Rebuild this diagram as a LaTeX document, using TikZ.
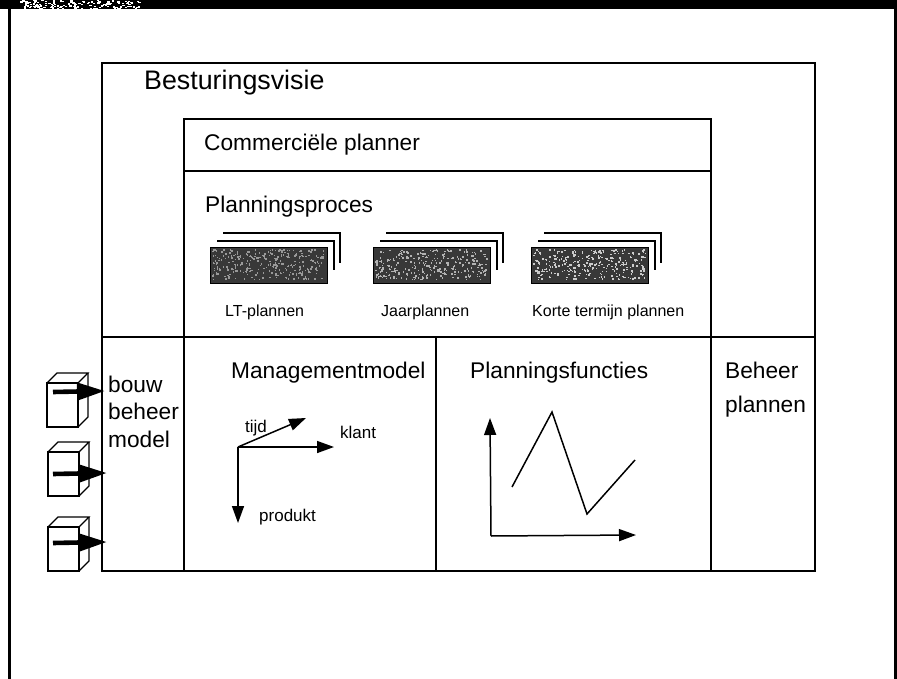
\documentclass[tikz,border=0pt]{standalone}
\usepackage{fontspec}
\setmainfont{Liberation Sans}
\usetikzlibrary{arrows.meta}
\newcommand{\fsz}[1]{\fontsize{#1}{#1}\selectfont}
\tikzset{
  x=1pt,y=-1pt,
  ln/.style={draw=black,line width=1.1pt},
  big/.style={anchor=base west,inner sep=0pt,font=\fsz{26.8}},
  mid/.style={anchor=base west,inner sep=0pt,font=\fsz{22.7}},
  sml/.style={anchor=base west,inner sep=0pt,font=\fsz{16}},
  axl/.style={anchor=base west,inner sep=0pt,font=\fsz{17}},
  plan/.style={draw=black,line width=1.4pt,fill=black!78,minimum width=117pt,minimum height=36pt,inner sep=0pt},
  thick arrow/.style={line width=4.6pt,-{Triangle[length=28pt,width=17pt]}},
  axis/.style={line width=1.5pt,-{Triangle[length=17pt,width=12pt]}},
}
\newcommand{\speck}[6]{% x y w h seed colour
  \pgfmathsetseed{#5}
  \foreach \i in {1,...,300}{
    \pgfmathsetmacro{\xa}{#1+rnd*(#3-2)}
    \pgfmathsetmacro{\ya}{#2+rnd*(#4-2)}
    \fill[#6] (\xa,\ya) rectangle ++(1.5,1.5);
  }}
\newcommand{\planstack}[4]{% name, left x, seed, speck colour
  \draw[line width=1.4pt] (#2+7,241) -- (#2+124,241) -- (#2+124,270);
  \draw[line width=1.4pt] (#2+13,233) -- (#2+130,233) -- (#2+130,263);
  \node[plan,anchor=north west] (#1) at (#2,247) {};
  \speck{#2+2}{249}{114}{32}{#3}{#4}
}
\newcommand{\crate}[3]{% name, x, y top-of-front
  \coordinate (#1) at (#2,#3);
  \draw[line width=1.2pt,fill=white] (#2,#3) rectangle ++(31,44);
  \draw[line width=1.2pt] (#2,#3) -- ++(10,-10) -- ++(31,0) -- ++(-10,10);
  \draw[line width=1.2pt] (#2+41,#3-10) -- ++(0,44) -- ++(-10,10);
}
\begin{document}
\begin{tikzpicture}
\useasboundingbox (0,0) rectangle (897,679);
\fill[white] (0,0) rectangle (897,679);
% outer frame
\fill[black] (0,0) rectangle (897,9.5);
\pgfmathsetseed{7}
\foreach \i in {1,...,160}{
  \pgfmathsetmacro{\xa}{20+rnd*120}
  \pgfmathsetmacro{\ya}{rnd*8}
  \fill[white] (\xa,\ya) rectangle ++(2.2,1.2);
}
\fill[black] (7.5,9) rectangle (10.5,679);
\fill[black] (894,9) rectangle (897,679);
% main boxes
\draw[ln] (102,63) rectangle (815,571);
\draw[ln] (102,337) -- (815,337);
\draw[ln] (184,119) rectangle (711,571);
\draw[ln] (184,171) -- (711,171);
\draw[ln] (184,337) -- (184,571);
\draw[ln] (436,337) -- (436,571);
\node[big] (visie) at (144,90) {Besturingsvisie};
\node[mid] (comm) at (204,151) {Commerciële planner};
\node[mid] (proces) at (205,213) {Planningsproces};
\planstack{p1}{210}{11}{black!40}
\planstack{p2}{373}{23}{black!30}
\planstack{p3}{531}{37}{black!20}
\node[sml] (l1) at (225,316) {LT-plannen};
\node[sml] (l2) at (381,316) {Jaarplannen};
\node[sml] (l3) at (532,316) {Korte termijn plannen};
\node[mid] (mm) at (231,378) {Managementmodel};
\node[mid] (pf) at (470,378) {Planningsfuncties};
\node[mid] (bp1) at (725,378) {Beheer};
\node[mid] (bp2) at (725,412) {plannen};
\node[mid] (bb1) at (108,392) {bouw};
\node[mid] (bb2) at (108,419.5) {beheer};
\node[mid] (bb3) at (108,447) {model};
% model axes
\coordinate (o) at (238,447);
\coordinate (tijdend) at (306,418);
\coordinate (klantend) at (334,447);
\coordinate (prodend) at (238,523);
\draw[axis] (o) -- (tijdend);
\draw[axis] (o) -- (klantend);
\draw[axis] (o) -- (prodend);
\node[axl] (tijd) at (245,432) {tijd};
\node[axl] (klant) at (340,438) {klant};
\node[axl] (produkt) at (259,521) {produkt};
% chart
\coordinate (co) at (491,536);
\coordinate (cy) at (490,418);
\coordinate (cx) at (636,535);
\draw[axis] (co) -- (cy);
\draw[axis] (co) -- (cx);
\draw[line width=1.5pt] (512,487) -- (552,412) -- (587,514) -- (635,460);
% crates
\crate{c1}{47}{383}
\crate{c2}{48}{452}
\crate{c3}{48}{527}
\coordinate (t1) at (105,391);
\coordinate (t2) at (107,473);
\coordinate (t3) at (107,542);
\draw[thick arrow] (53,392) -- (t1);
\draw[thick arrow] (53,474) -- (t2);
\draw[thick arrow] (53,543) -- (t3);
\end{tikzpicture}
\end{document}
